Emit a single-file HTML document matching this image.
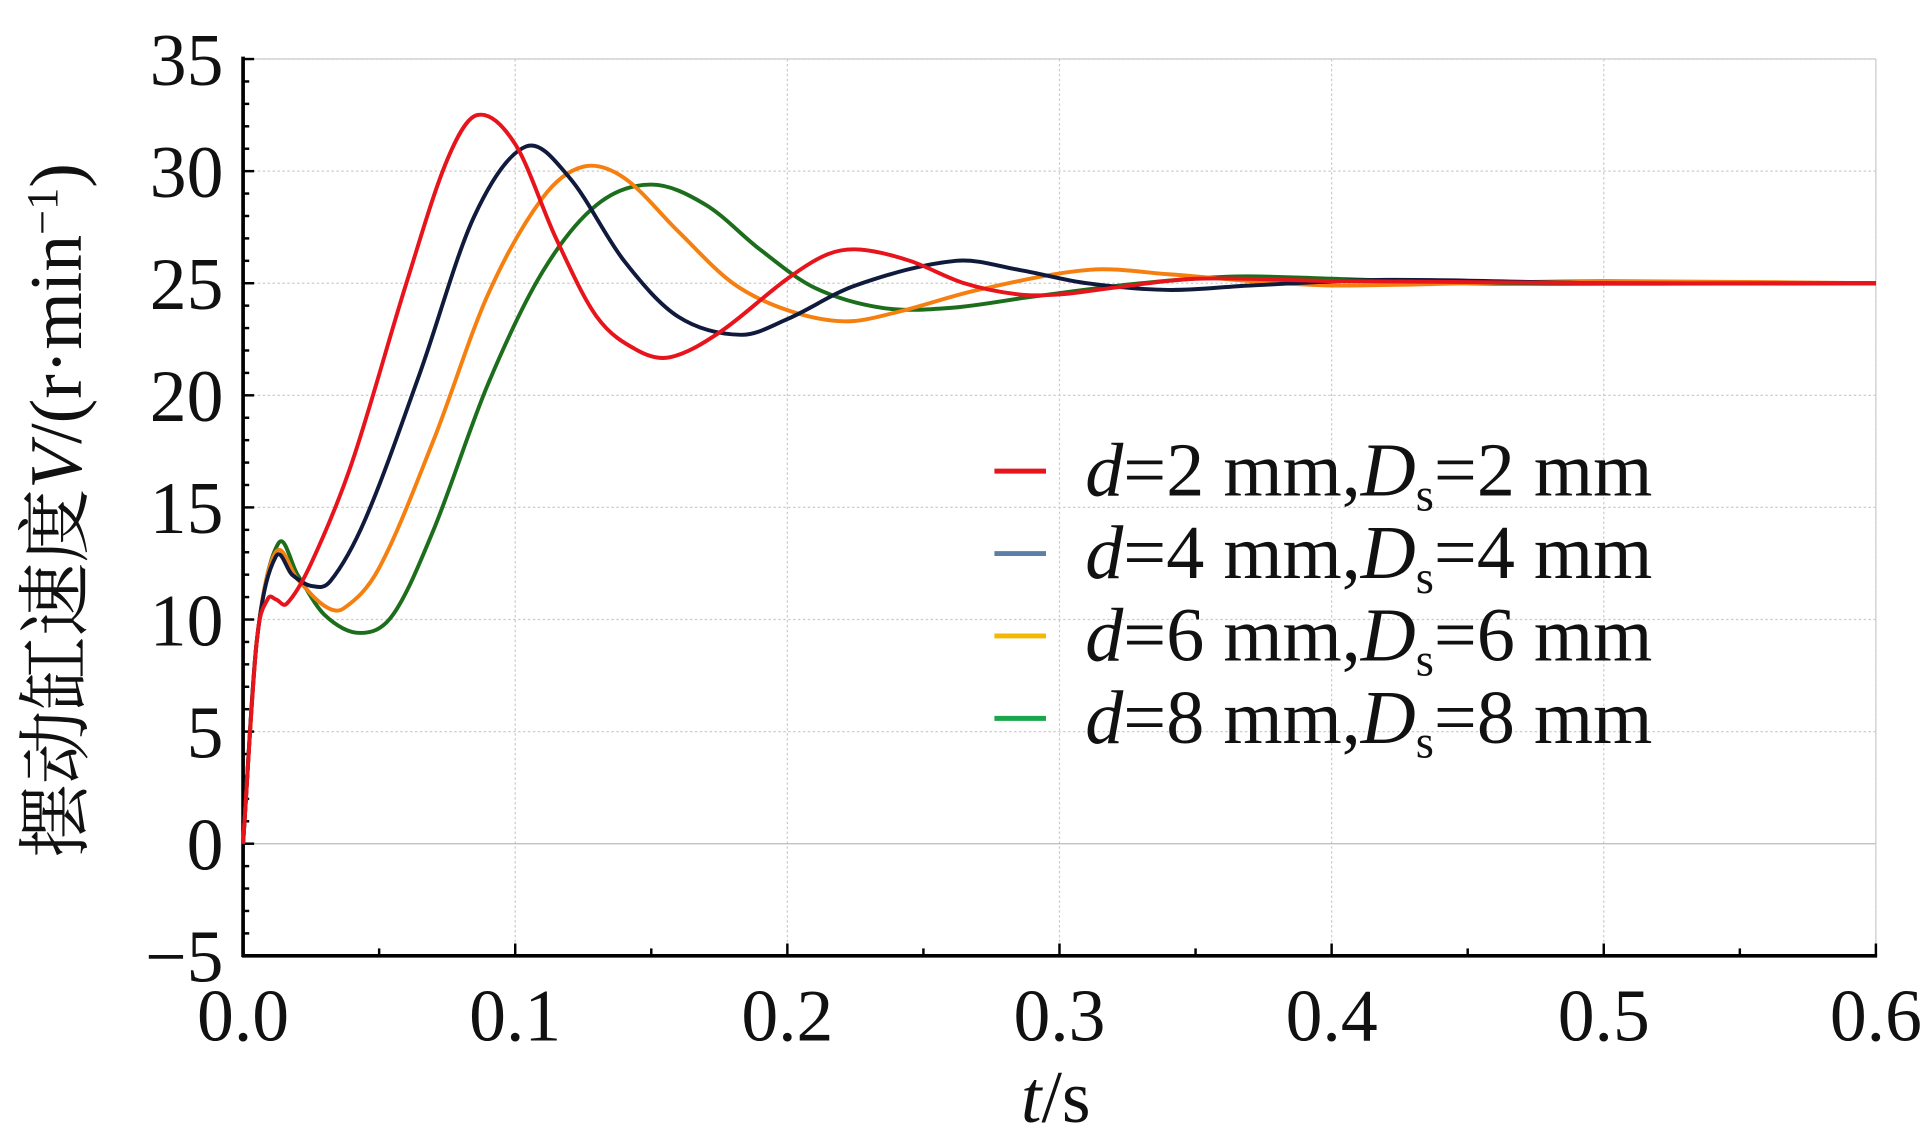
<!DOCTYPE html>
<html><head><meta charset="utf-8"><style>
html,body{margin:0;padding:0;background:#fff;}
svg{display:block;}
text{font-family:"Liberation Serif","Noto Serif CJK SC",serif;fill:#111;}
</style></head><body>
<svg id="chart" width="1925" height="1144" viewBox="0 0 1568 930" preserveAspectRatio="none" xmlns="http://www.w3.org/2000/svg">
<g id="grid"></g>
<g id="axes"></g>
<g id="series"></g>
<text x="860" y="912" font-size="60" text-anchor="middle"><tspan font-style="italic">t</tspan>/s</text>
<text transform="translate(66,415) rotate(-90)" font-size="60" text-anchor="middle">摆动缸速度<tspan font-style="italic">V</tspan>/(r·min<tspan baseline-shift="super" font-size="36">−1</tspan>)</text>
<g id="legend"></g>
</svg>
<script>
const xTicks=[0,0.1,0.2,0.3,0.4,0.5,0.6];
const xTickLabels=["0.0","0.1","0.2","0.3","0.4","0.5","0.6"];
const yTicks=[-5,0,5,10,15,20,25,30,35];
const yTickLabels=["−5","0","5","10","15","20","25","30","35"];
const seriesNames=["d=2 mm,Ds=2 mm","d=4 mm,Ds=4 mm","d=6 mm,Ds=6 mm","d=8 mm,Ds=8 mm"];
const t1=[0,0.005,0.009,0.012,0.016,0.025,0.04,0.06,0.075,0.086,0.1,0.115,0.13,0.145,0.157,0.175,0.2,0.215,0.227,0.245,0.265,0.285,0.3,0.32,0.35,0.4,0.5,0.6];
const v1=[0,9,10.9,10.9,10.7,12.5,17,25,30.5,32.5,31.2,27,23.5,22,21.7,22.8,25.2,26.3,26.5,26,25,24.5,24.5,24.8,25.2,25.1,25,25];
const t2=[0,0.005,0.012,0.018,0.025,0.032,0.045,0.065,0.085,0.104,0.12,0.14,0.16,0.183,0.2,0.225,0.262,0.285,0.31,0.34,0.37,0.42,0.5,0.6];
const v2=[0,9,12.8,12,11.5,11.7,14.5,21,28,31.1,29.7,26,23.5,22.7,23.4,24.9,26,25.6,25,24.7,24.9,25.15,25,25];
const t3=[0,0.005,0.012,0.02,0.03,0.037,0.05,0.07,0.09,0.11,0.125,0.14,0.16,0.18,0.2,0.221,0.24,0.27,0.311,0.34,0.37,0.4,0.45,0.5,0.6];
const v3=[0,9,13,11.8,10.6,10.5,12.3,18,24.5,28.8,30.2,29.7,27.3,25,23.8,23.3,23.7,24.7,25.6,25.4,25.1,24.9,25,25.1,25];
const t4=[0,0.005,0.013,0.02,0.03,0.043,0.055,0.07,0.09,0.11,0.13,0.15,0.17,0.19,0.21,0.235,0.26,0.29,0.33,0.365,0.4,0.45,0.5,0.6];
const v4=[0,9,13.4,12,10.2,9.4,10.2,14,20.5,25.5,28.5,29.4,28.5,26.5,24.8,23.9,23.9,24.4,25,25.3,25.2,25,24.98,25];
const curveColors=["#e8141c","#101a3c","#f57f0f","#1c6e1c"];
const legendColors=["#e8141c","#5b7fa6","#f5b800","#1aa64a"];

const NS="http://www.w3.org/2000/svg";
const X0=198,X1=1528,Y0=777,Y1=48;
const xs=t=>X0+(t-0)/(0.6)*(X1-X0);
const ys=v=>Y0-(v+5)/40*(Y0-Y1);
function mk(tag,attrs,parent){const e=document.createElementNS(NS,tag);for(const k in attrs)e.setAttribute(k,attrs[k]);parent.appendChild(e);return e;}
const grid=document.getElementById('grid'),axes=document.getElementById('axes'),ser=document.getElementById('series'),leg=document.getElementById('legend');
xTicks.forEach(t=>{if(t>0){const l=mk('line',{x1:xs(t),x2:xs(t),y1:Y1,y2:Y0,stroke:'#ccc','stroke-width':1,'stroke-dasharray':'2,2'},grid);

}});
yTicks.forEach(v=>{if(v>-5){const l=mk('line',{x1:X0,x2:X1,y1:ys(v),y2:ys(v),stroke:v===0?'#bbb':'#ccc','stroke-width':1,'stroke-dasharray':v===0?'':'2,2'},grid);

}});
mk('line',{x1:X0,x2:X1,y1:Y1,y2:Y1,stroke:'#ccc','stroke-width':1},axes);
mk('line',{x1:X1,x2:X1,y1:Y1,y2:Y0,stroke:'#ccc','stroke-width':1},axes);
const ya=mk('line',{x1:X0,x2:X0,y1:Y1-2,y2:Y0+1,stroke:'#000','stroke-width':3},axes);


const xa=mk('line',{x1:X0-1,x2:X1+1,y1:Y0,y2:Y0,stroke:'#000','stroke-width':3},axes);


for(let v=-5;v<=35;v++){mk('line',{x1:X0,x2:X0+(v%5===0?9:5),y1:ys(v),y2:ys(v),stroke:'#000','stroke-width':2},axes);}
for(let i=0;i<=12;i++){const t=i*0.05;mk('line',{x1:xs(t),x2:xs(t),y1:Y0,y2:Y0-(i%2===0?10:6),stroke:'#000','stroke-width':2},axes);}
xTicks.forEach((t,i)=>{const e=mk('text',{x:xs(t),y:846,'font-size':60,'text-anchor':'middle'},axes);e.textContent=xTickLabels[i];

});
yTicks.forEach((v,i)=>{const e=mk('text',{x:182,y:ys(v)+21,'font-size':60,'text-anchor':'end'},axes);e.textContent=yTickLabels[i];

});
function pathFor(T,V){const P=T.map((t,i)=>[xs(t),ys(V[i])]);let d='M'+P[0][0]+','+P[0][1];
for(let i=0;i<P.length-1;i++){const p0=P[Math.max(0,i-1)],p1=P[i],p2=P[i+1],p3=P[Math.min(P.length-1,i+2)];
const h=p2[0]-p1[0];
const m1=(p2[1]-p0[1])/((p2[0]-p0[0])||1),m2=(p3[1]-p1[1])/((p3[0]-p1[0])||1);
const c1=[p1[0]+h/3,p1[1]+m1*h/3],c2=[p2[0]-h/3,p2[1]-m2*h/3];
d+=' C'+c1.join(',')+' '+c2.join(',')+' '+p2.join(',');}return d;}
const TT=[t1,t2,t3,t4],VV=[v1,v2,v3,v4];
[3,2,1,0].forEach(k=>{const p=mk('path',{d:pathFor(TT[k],VV[k]),fill:'none',stroke:curveColors[k],'stroke-width':3.2,'stroke-linejoin':'round'},ser);

});
const rows=[383,450,517,584];
seriesNames.forEach((n,k)=>{const g=mk('g',{},leg);


mk('line',{x1:810,x2:852,y1:rows[k],y2:rows[k],stroke:legendColors[k],'stroke-width':4},g);
const num=n.match(/d=(\d)/)[1];
const tx=mk('text',{x:884,y:rows[k]+20,'font-size':62},g);
tx.innerHTML='<tspan font-style="italic">d</tspan>='+num+' mm,<tspan font-style="italic">D</tspan><tspan font-size="38" dy="12">s</tspan><tspan dy="-12">='+num+' mm</tspan>';});
</script>
</body></html>
